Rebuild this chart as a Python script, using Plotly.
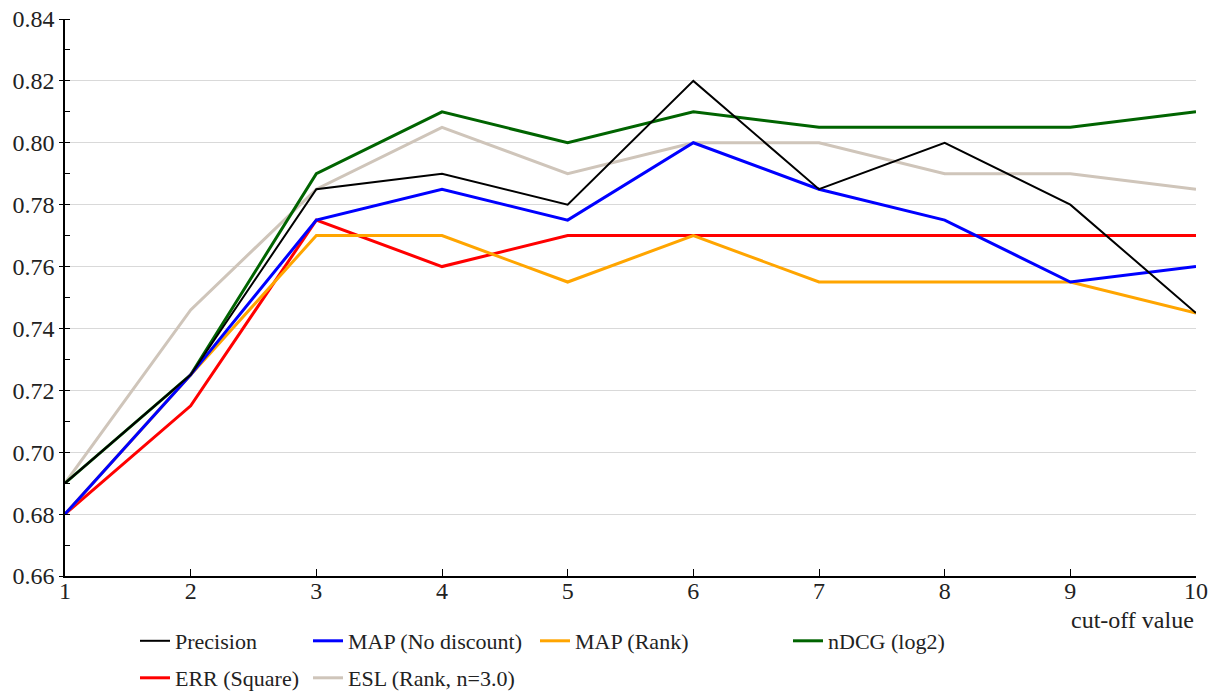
import plotly.graph_objects as go

cutoff = [1, 2, 3, 4, 5, 6, 7, 8, 9, 10]
precision = [0.69, 0.725, 0.785, 0.79, 0.78, 0.82, 0.785, 0.80, 0.78, 0.745]
map_nodisc = [0.68, 0.725, 0.775, 0.785, 0.775, 0.80, 0.785, 0.775, 0.755, 0.76]
map_rank = [0.68, 0.725, 0.77, 0.77, 0.755, 0.77, 0.755, 0.755, 0.755, 0.745]
ndcg = [0.69, 0.725, 0.79, 0.81, 0.80, 0.81, 0.805, 0.805, 0.805, 0.81]
err_sq = [0.68, 0.715, 0.775, 0.76, 0.77, 0.77, 0.77, 0.77, 0.77, 0.77]
esl = [0.69, 0.746, 0.785, 0.805, 0.79, 0.80, 0.80, 0.79, 0.79, 0.785]

y_ticks = [0.66, 0.68, 0.70, 0.72, 0.74, 0.76, 0.78, 0.80, 0.82, 0.84]

FONT = "Liberation Serif, Times New Roman, serif"
FS_TICK = 24
FS_LEG = 22
TXT = "#222222"
W, H = 1215, 693
L, R, T, B = 65, 19, 19, 117
PW, PH = W - L - R, H - T - B

def cx(p):
    return p / W

def cy(p):
    return (H - p) / H

def py_paper(p):
    return (H - B - p) / PH

# (name, values, color, width, legend id, text-start x px, row y px)
series = [
    ("ESL (Rank, n=3.0)", esl, "#cfc5ba", 3, "legend6", 348, 678),
    ("nDCG (log2)", ndcg, "#006400", 3, "legend4", 828, 641),
    ("ERR (Square)", err_sq, "#ff0000", 3, "legend5", 175, 678),
    ("MAP (Rank)", map_rank, "#ffa500", 3, "legend3", 575, 641),
    ("MAP (No discount)", map_nodisc, "#0000ff", 3, "legend2", 348, 641),
    ("Precision", precision, "#000000", 2, "legend", 175, 641),
]

fig = go.Figure()
legends = {}
for name, vals, color, width, lg, tx, ty in series:
    fig.add_trace(go.Scatter(
        x=cutoff, y=vals, mode="lines", name=name,
        line=dict(color=color, width=width),
        legend=lg,
    ))
    legends[lg] = dict(
        xref="container", yref="container",
        x=cx(tx - 40), y=cy(ty), xanchor="left", yanchor="middle",
        orientation="v", bgcolor="rgba(0,0,0,0)", borderwidth=0,
        font=dict(family=FONT, size=FS_LEG, color=TXT),
        itemwidth=30,
    )

fig.update_layout(
    width=W, height=H,
    margin=dict(l=L, r=R, t=T, b=B, pad=0, autoexpand=False),
    plot_bgcolor="white", paper_bgcolor="white",
    font=dict(family=FONT, size=FS_TICK, color=TXT),
    showlegend=True,
    **legends,
)

fig.update_xaxes(
    range=[1, 10], tickvals=cutoff, ticktext=[str(c) for c in cutoff],
    showgrid=False, zeroline=False, automargin=False,
    showline=True, linecolor="black", linewidth=1.5,
    ticks="inside", ticklen=7, tickcolor="black", tickwidth=1.2,
    ticklabelstandoff=-8,
    tickfont=dict(family=FONT, size=FS_TICK, color=TXT),
)
fig.update_yaxes(
    range=[0.66, 0.84], tickvals=y_ticks, ticktext=[f"{v:.2f}" for v in y_ticks],
    showgrid=True, gridcolor="#d9d9d9", gridwidth=1.2, zeroline=False, automargin=False,
    showline=True, linecolor="black", linewidth=1.5,
    ticks="outside", ticklen=4, tickcolor="black", tickwidth=1.2,
    tickfont=dict(family=FONT, size=FS_TICK, color=TXT),
    minor=dict(dtick=0.01, ticks="inside", ticklen=5, tickcolor="black", tickwidth=1.2, showgrid=False),
)

fig.add_annotation(
    text="cut-off value", xref="paper", yref="paper",
    x=1.0, y=py_paper(620), xanchor="right", yanchor="middle",
    showarrow=False, font=dict(family=FONT, size=FS_TICK, color=TXT),
)

fig.write_html("out.html", config={"displayModeBar": False},
               post_script="document.body.style.margin='0';")
